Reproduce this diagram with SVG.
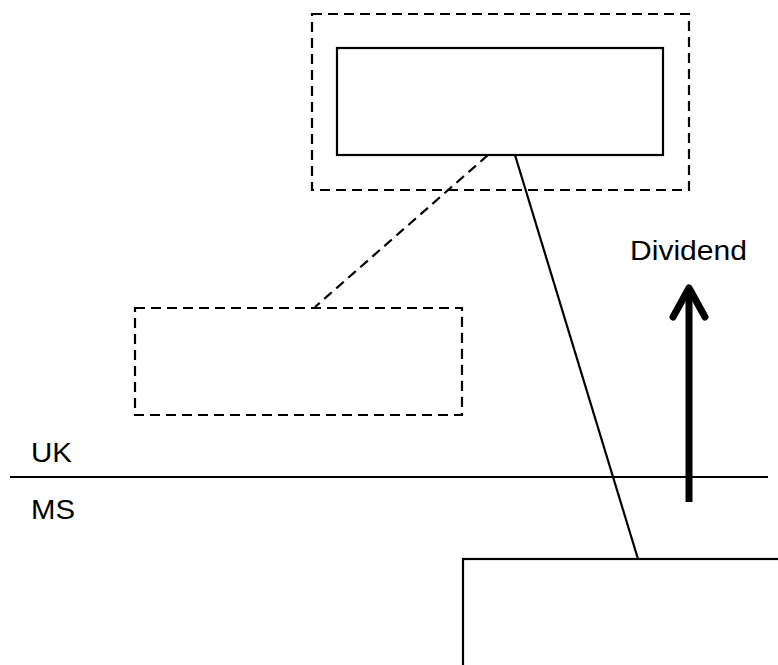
<svg xmlns="http://www.w3.org/2000/svg" width="778" height="665" viewBox="0 0 778 665">
<style>
.solid{fill:none;stroke:#000;stroke-width:2.2}
.dash{fill:none;stroke:#000;stroke-width:2.2;stroke-dasharray:10 6}
.lbl{font-family:"Liberation Sans",Arial,sans-serif;font-size:27px;fill:#000}
</style>
<rect width="778" height="665" fill="#fff"/>
<g id="outer-group"><rect class="dash" x="312" y="14" width="377" height="176"/></g>
<g id="top-box"><rect class="solid" x="337" y="48" width="326" height="107"/></g>
<g id="middle-box"><rect class="dash" x="135" y="308" width="327" height="107"/></g>
<g id="bottom-box"><rect class="solid" x="463" y="559" width="330" height="120"/></g>
<g id="border"><line class="solid" x1="10" y1="477" x2="768" y2="477"/>
<text class="lbl" x="31" y="462" textLength="41" lengthAdjust="spacingAndGlyphs">UK</text>
<text class="lbl" x="31" y="519" textLength="44" lengthAdjust="spacingAndGlyphs">MS</text></g>
<g id="connectors">
<line class="dash" x1="488" y1="155" x2="315" y2="307"/>
<line class="solid" x1="515" y1="155" x2="638" y2="559"/>
<g id="dividend-arrow">
<line x1="689" y1="502" x2="689" y2="290" stroke="#000" stroke-width="7"/>
<polyline points="673,317 689,288 705,317" fill="none" stroke="#000" stroke-width="7" stroke-linecap="round" stroke-linejoin="round"/>
</g>
</g>
<text class="lbl" x="630" y="260" textLength="117" lengthAdjust="spacingAndGlyphs">Dividend</text>
</svg>
